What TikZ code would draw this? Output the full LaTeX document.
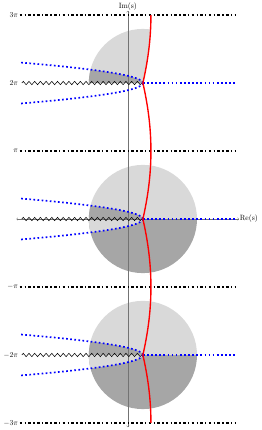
\documentclass[tikz,border=0pt]{standalone}
\usetikzlibrary{decorations.pathmorphing}
\begin{document}
\begin{tikzpicture}[
  lightfill/.style = {fill=black!15},
  darkfill/.style  = {fill=black!35},
  level/.style     = {line width=2.2pt, dash pattern=on 3.5pt off 3pt on 1.8pt off 3pt},
  axis/.style      = {<->, black!55, line width=0.5pt},
  cut/.style       = {decorate, decoration={zigzag, segment length=7.5pt, amplitude=2.2pt},
                      line width=0.7pt},
  branch/.style    = {blue, line width=2.2pt, dash pattern=on 2.2pt off 3.2pt},
  crit/.style      = {red, line width=1.8pt}
]
\useasboundingbox (-5.91,-9.75) rectangle (6.19,10.12);
\def\lnt{0.6931}

% discs at 0 and -2pi
\foreach \k in {0,-2} {
  \begin{scope}
    \clip (\lnt,\k*pi) circle (2.5);
    \fill[lightfill] (-3,\k*pi) rectangle (4,\k*pi+2.6);
    \fill[darkfill]  (-3,\k*pi) rectangle (4,\k*pi-2.6);
    \fill[darkfill]  plot[domain=0:1, samples=30] ({\lnt-5.69*\x*\x},{\k*pi+0.95*\x})
                     -- (-5,\k*pi) -- cycle;
    \fill[lightfill] plot[domain=0:1, samples=30] ({\lnt-5.69*\x*\x},{\k*pi-0.95*\x})
                     -- (-5,\k*pi) -- cycle;
  \end{scope}
}
% upper half disc at 2pi, left of the red curve
\begin{scope}
  \clip plot[domain=20:30, samples=21] ({ln(2+0.9*abs(sin(\x*9)))},{\x*pi/10})
        -- (-3,3*pi) -- (-3,2*pi) -- cycle;
  \clip (\lnt,2*pi) circle (2.5);
  \fill[lightfill] (-3,2*pi) rectangle (4,2*pi+2.6);
  \fill[darkfill]  plot[domain=0:1, samples=30] ({\lnt-5.69*\x*\x},{2*pi+0.95*\x})
                   -- (-5,2*pi) -- cycle;
\end{scope}

% axes
\coordinate (re-l) at (-5.15,0);
\coordinate (re-r) at (5.13,0);
\coordinate (im-b) at (0,-9.62);
\coordinate (im-t) at (0,9.62);
\draw[axis] (im-b) -- (im-t);
\draw[axis] (re-l) -- (re-r);
\node[right, inner sep=1pt] (re-label) at (re-r) {Re(s)};
\node[above, inner sep=1pt] (im-label) at (im-t) {Im(s)};

% levels at odd multiples of pi
\foreach \k in {3,1,-1,-3} {
  \draw[level] (-5,\k*pi) -- (5,\k*pi);
}
\foreach \k/\lab in {3/$3\pi$, 2/$2\pi$, 1/$\pi$, -1/$-\pi$, -2/$-2\pi$, -3/$-3\pi$} {
  \node[left, inner sep=2pt] (lev\k) at (-5,\k*pi) {\lab};
}

% cuts and branches
\foreach \k in {2,0,-2} {
  \coordinate (p\k) at (\lnt,\k*pi);
  \coordinate (w\k) at (-4.9,\k*pi);
  \coordinate (e\k) at (5,\k*pi);
  \draw[cut] (w\k) -- (p\k);
  \draw[branch] plot[domain=0:1, samples=30] ({\lnt-5.69*\x*\x},{\k*pi+0.95*\x});
  \draw[branch] plot[domain=0:1, samples=30] ({\lnt-5.69*\x*\x},{\k*pi-0.95*\x});
  \draw[branch] (p\k) -- (e\k);
}

% red curve
\draw[crit] plot[domain=-30:30, samples=121] ({ln(2+0.9*abs(sin(\x*9)))},{\x*pi/10});
\end{tikzpicture}
\end{document}
